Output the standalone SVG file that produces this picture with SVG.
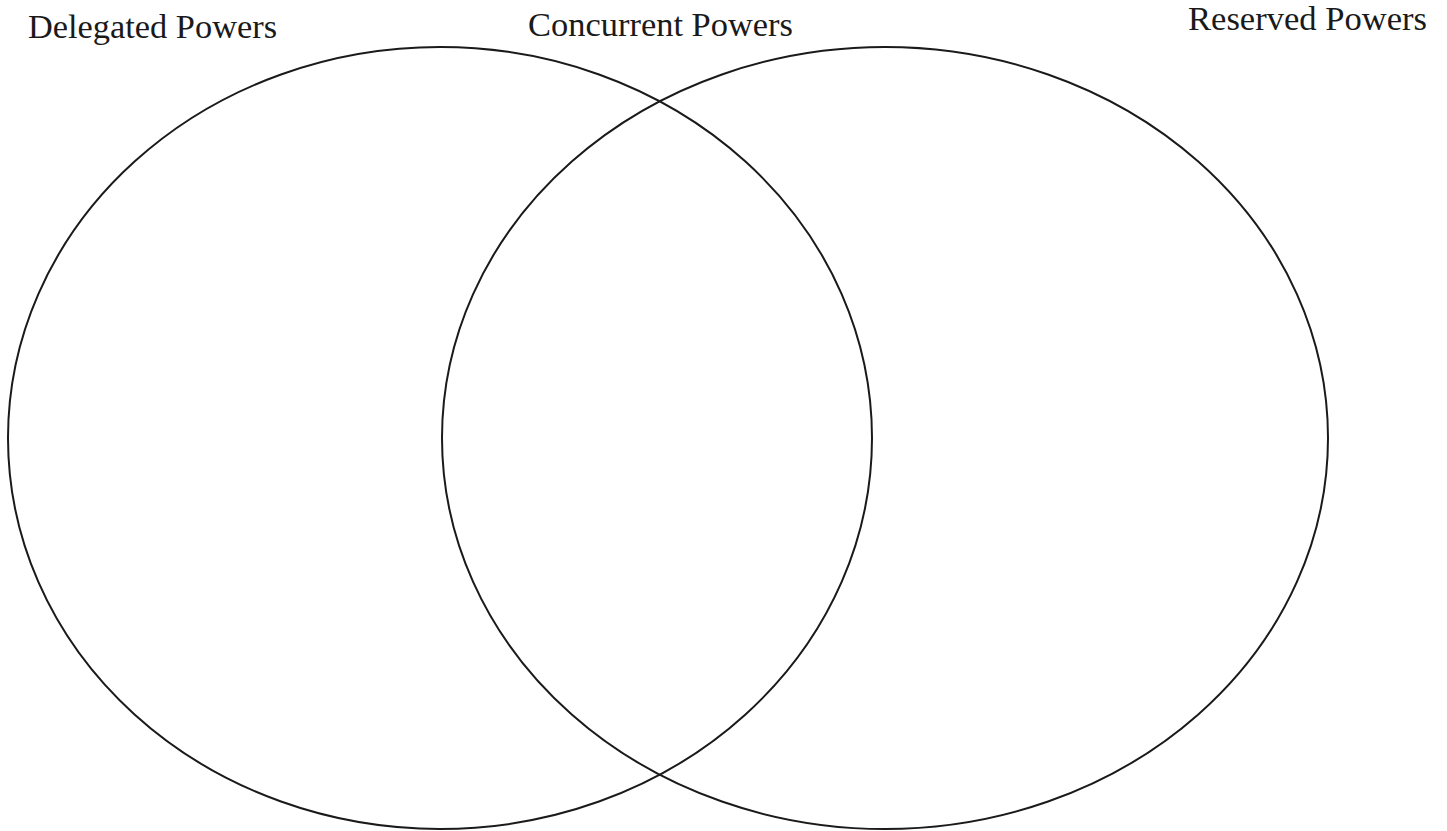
<svg xmlns="http://www.w3.org/2000/svg" width="1447" height="831" viewBox="0 0 1447 831">
<style>
.c{fill:none;stroke:#1a1a1a;stroke-width:2}
.t{font-family:"Liberation Serif","Times New Roman",serif;font-size:34px;fill:#1a1a1a}
</style>
<rect width="1447" height="831" fill="#fff"/>
<g id="delegated">
<ellipse class="c" cx="440" cy="438" rx="432" ry="391"/>
<text class="t" x="28" y="38" textLength="249" lengthAdjust="spacingAndGlyphs">Delegated Powers</text>
</g>
<g id="reserved">
<ellipse class="c" cx="885" cy="438" rx="443" ry="391"/>
<text class="t" x="1188" y="30" textLength="239" lengthAdjust="spacingAndGlyphs">Reserved Powers</text>
</g>
<g id="concurrent">
<text class="t" x="528" y="36" textLength="265" lengthAdjust="spacingAndGlyphs">Concurrent Powers</text>
</g>
<g id="connectors"/>
</svg>
